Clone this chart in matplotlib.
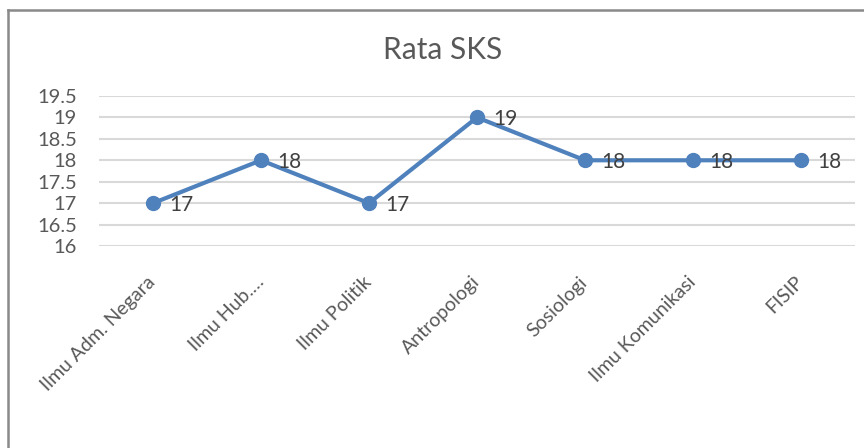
import matplotlib
matplotlib.use("Agg")
import matplotlib.pyplot as plt
from matplotlib.lines import Line2D

# Data
categories = ["Ilmu Adm. Negara", "Ilmu Hub.\u2026", "Ilmu Politik", "Antropologi",
              "Sosiologi", "Ilmu Komunikasi", "FISIP"]
values = [17, 18, 17, 19, 18, 18, 18]
yticks = [16, 16.5, 17, 17.5, 18, 18.5, 19, 19.5]

plt.rcParams["font.family"] = ["Lato", "DejaVu Sans"]

line_color = "#4F81BD"
text_color = "#595959"

fig = plt.figure(figsize=(8.64, 4.48), dpi=100)
ax = fig.add_axes([99 / 864, 1 - 246 / 448, (855 - 99) / 864, (246 - 96) / 448])

x = list(range(len(categories)))
ax.plot(x, values, color=line_color, lw=3.0, marker="o", markersize=10,
        solid_capstyle="round", zorder=3)
for xi, v in zip(x, values):
    ax.annotate(f"{v:g}", (xi, v), xytext=(12, -1), textcoords="offset points",
                ha="left", va="center", fontsize=15, color="#404040")

ax.set_xlim(-0.5, len(categories) - 0.5)
ax.set_ylim(16, 19.5)
ax.set_yticks(yticks)
ax.set_yticklabels([f"{t:g}" for t in yticks])
ax.set_xticks(x)
ax.set_xticklabels(categories, rotation=45, ha="right", va="center",
                   rotation_mode="anchor")
ax.tick_params(axis="y", length=0, pad=16, labelsize=14.5, labelcolor=text_color)
ax.tick_params(axis="x", length=0, pad=24, labelsize=14, labelcolor=text_color)
ax.grid(axis="y", color="#D9D9D9", lw=1.5)
ax.set_axisbelow(True)
for s in ax.spines.values():
    s.set_visible(False)

fig.text(0.512, 1 - 50 / 448, "Rata SKS", ha="center", va="center",
         fontsize=21.5, color=text_color)

# Chart border (top and left edges visible)
fig.add_artist(Line2D([8 / 864, 1], [1 - 10 / 448, 1 - 10 / 448],
                      transform=fig.transFigure, color="#898989", lw=1.8))
fig.add_artist(Line2D([8 / 864, 8 / 864], [0, 1 - 10 / 448],
                      transform=fig.transFigure, color="#898989", lw=1.8))

fig.savefig("out.png", dpi=100)
